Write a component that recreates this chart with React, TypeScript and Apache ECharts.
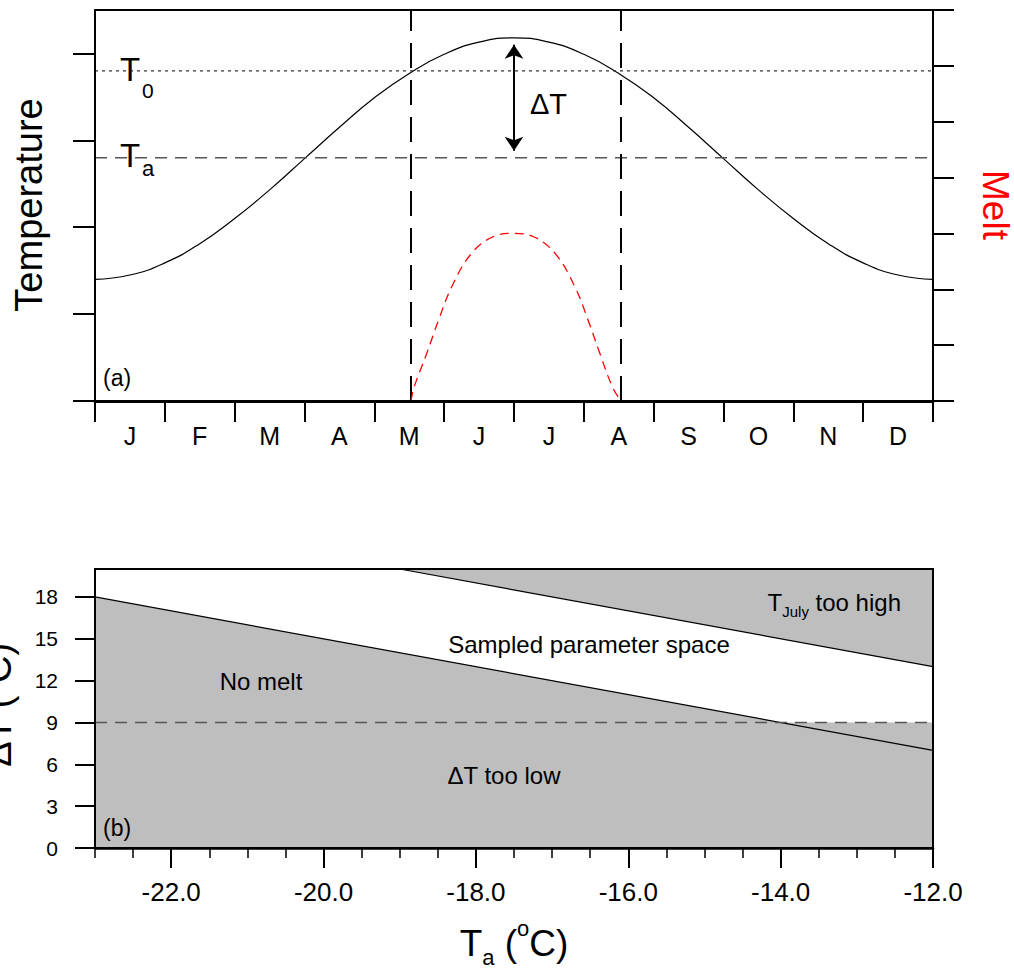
import React, { useEffect, useRef } from 'react';
import * as echarts from 'echarts';

const FONT = '"Liberation Sans", Arial, Helvetica, sans-serif';

// ---------- Panel (a) ----------
const MONTHS = ['J', 'F', 'M', 'A', 'M', 'J', 'J', 'A', 'S', 'O', 'N', 'D'];
const TEMP_MONTH = [0, 0.5, 1, 1.5, 2, 2.5, 3, 3.5, 4, 4.5, 5, 5.5, 6, 6.5, 7, 7.5, 8, 8.5, 9, 9.5, 10, 10.5, 11, 11.5, 12];
const TEMP_VALUE = [1.40, 1.45, 1.59, 1.81, 2.10, 2.43, 2.79, 3.15, 3.49, 3.77, 3.99, 4.13, 4.18, 4.13, 3.99, 3.77, 3.49, 3.15, 2.79, 2.43, 2.10, 1.81, 1.59, 1.45, 1.40];
const T0_VALUE = 3.80;
const TA_VALUE = 2.80;
const T_PEAK = 4.18;
const PEAK_MONTH = 6.0;
const MELT_MONTH = [4.525, 4.57, 4.75, 4.92, 5.11, 5.39, 5.70, 5.99, 6.28, 6.59, 6.87, 7.06, 7.23, 7.41, 7.532];
const MELT_VALUE = [0, 0.25, 0.85, 1.45, 2.05, 2.64, 2.94, 3.0, 2.94, 2.64, 2.05, 1.45, 0.85, 0.25, 0];
const MELT_START = 4.525;
const MELT_END = 7.532;
const TEMP_AXIS_MAX = 4.5;
const TEMP_TICKS = [0, 1, 2, 3, 4];
const MELT_AXIS_MAX = 7;

// ---------- Panel (b) ----------
const TA_MIN = -23;
const TA_MAX = -12;
const DT_MAX = 20;
const NO_MELT_TA = [-23, -12];
const NO_MELT_DT = [18, 7];
const TOO_HIGH_TA = [-19, -12];
const TOO_HIGH_DT = [20, 13];
const DT_LOW = 9;
const TA_LABELS = [-22, -20, -18, -16, -14, -12];
const TA_MINOR = [-23, -22.5, -22, -21.5, -21, -20.5, -20, -19.5, -19, -18.5, -18, -17.5, -17, -16.5, -16, -15.5, -15, -14.5, -14, -13.5, -13, -12.5, -12];
const DT_LABELS = [0, 3, 6, 9, 12, 15, 18];

const GRAY = '#bebebe';

const zip = (xs: number[], ys: number[]) => xs.map((x, i) => [x, ys[i]]);

function txt(text: string, x: number, y: number, size: number, opts: any = {}) {
  return {
    type: 'text',
    x,
    y,
    rotation: opts.rotation || 0,
    silent: true,
    z: 100,
    style: {
      text,
      fontSize: size,
      fontFamily: FONT,
      fill: opts.fill || '#000',
      align: opts.align || 'left',
      verticalAlign: 'middle',
      rich: opts.rich,
    },
  };
}

function buildOption() {
  const tickStyle = { color: '#000', width: 2 };
  const ARROW_TOP = T_PEAK - 0.08;
  const ARROW_BOTTOM = TA_VALUE + 0.08;

  const richBig = (big: number, small: number) => ({
    b: { fontSize: big, fontFamily: FONT, lineHeight: big + 14, verticalAlign: 'middle', fill: '#000' },
    sub: { fontSize: small, fontFamily: FONT, lineHeight: small, verticalAlign: 'bottom', fill: '#000' },
    sup: { fontSize: small, fontFamily: FONT, lineHeight: small, verticalAlign: 'top', fill: '#000' },
  });

  return {
    animation: false,
    backgroundColor: '#fff',
    grid: [
      { left: 95, top: 10, width: 838, height: 391, show: true, borderColor: '#000', borderWidth: 2, backgroundColor: 'transparent', z: 10 },
      { left: 95, top: 569, width: 838, height: 279, show: true, borderColor: '#000', borderWidth: 2, backgroundColor: 'transparent', z: 10 },
    ],
    xAxis: [
      {
        type: 'category', gridIndex: 0, data: MONTHS, boundaryGap: true, position: 'bottom', z: 10,
        axisLine: { show: true, lineStyle: { color: '#000', width: 3 } },
        axisTick: { show: true, length: 21, lineStyle: tickStyle },
        axisLabel: { show: true, fontSize: 25, fontFamily: FONT, color: '#000', margin: 22 },
        splitLine: { show: false },
      },
      {
        type: 'value', gridIndex: 0, min: 0, max: 12, show: false, splitLine: { show: false },
      },
      {
        type: 'value', gridIndex: 1, min: TA_MIN, max: TA_MAX, position: 'bottom', z: 10,
        axisLine: { show: true, lineStyle: { color: '#000', width: 2.5 } },
        axisTick: { show: true, length: 20, customValues: TA_LABELS, lineStyle: tickStyle },
        axisLabel: { show: true, customValues: TA_LABELS, fontSize: 26, fontFamily: FONT, color: '#000', margin: 31, formatter: (v: number) => v.toFixed(1) },
        splitLine: { show: false },
      },
      {
        type: 'value', gridIndex: 1, min: TA_MIN, max: TA_MAX, position: 'bottom', z: 10,
        axisLine: { show: false },
        axisTick: { show: true, length: 10, customValues: TA_MINOR, lineStyle: { color: '#000', width: 1.5 } },
        axisLabel: { show: false },
        splitLine: { show: false },
      },
    ],
    yAxis: [
      {
        type: 'value', gridIndex: 0, min: 0, max: TEMP_AXIS_MAX, position: 'left', z: 10,
        axisLine: { show: true, lineStyle: { color: '#000', width: 2 } },
        axisTick: { show: true, length: 22, customValues: TEMP_TICKS, lineStyle: tickStyle },
        axisLabel: { show: false },
        splitLine: { show: false },
      },
      {
        type: 'value', gridIndex: 0, min: 0, max: MELT_AXIS_MAX, interval: 1, position: 'right', z: 10,
        axisLine: { show: true, lineStyle: { color: '#000', width: 2 } },
        axisTick: { show: true, length: 21, lineStyle: tickStyle },
        axisLabel: { show: false },
        splitLine: { show: false },
      },
      {
        type: 'value', gridIndex: 1, min: 0, max: DT_MAX, position: 'left', z: 10,
        axisLine: { show: true, lineStyle: { color: '#000', width: 2 } },
        axisTick: { show: true, length: 20, customValues: DT_LABELS, lineStyle: tickStyle },
        axisLabel: { show: true, customValues: DT_LABELS, fontSize: 21, fontFamily: FONT, color: '#000', margin: 37 },
        splitLine: { show: false },
      },
    ],
    series: [
      {
        type: 'line', xAxisIndex: 1, yAxisIndex: 0, data: zip(TEMP_MONTH, TEMP_VALUE),
        smooth: true, showSymbol: false, silent: true,
        lineStyle: { color: '#000', width: 1.2 },
        markLine: {
          silent: true, symbol: ['arrow', 'arrow'], symbolSize: 14,
          label: { show: false },
          itemStyle: { color: '#000' },
          lineStyle: { color: '#000', width: 2, type: 'solid' },
          emphasis: { disabled: true },
          data: [[{ coord: [PEAK_MONTH, ARROW_BOTTOM] }, { coord: [PEAK_MONTH, ARROW_TOP] }]],
        },
      },
      {
        type: 'line', xAxisIndex: 1, yAxisIndex: 0, data: [[0, T0_VALUE], [12, T0_VALUE]],
        showSymbol: false, silent: true, lineStyle: { color: '#333', width: 1.3, type: [3, 4] },
      },
      {
        type: 'line', xAxisIndex: 1, yAxisIndex: 0, data: [[0, TA_VALUE], [12, TA_VALUE]],
        showSymbol: false, silent: true, lineStyle: { color: '#555', width: 1.5, type: [12, 8] },
      },
      {
        type: 'line', xAxisIndex: 1, yAxisIndex: 0, data: [[MELT_START, 0], [MELT_START, TEMP_AXIS_MAX]],
        showSymbol: false, silent: true, lineStyle: { color: '#000', width: 2, type: [25, 12] },
      },
      {
        type: 'line', xAxisIndex: 1, yAxisIndex: 0, data: [[MELT_END, 0], [MELT_END, TEMP_AXIS_MAX]],
        showSymbol: false, silent: true, lineStyle: { color: '#000', width: 2, type: [25, 12] },
      },
      {
        type: 'line', xAxisIndex: 1, yAxisIndex: 1, data: zip(MELT_MONTH, MELT_VALUE),
        smooth: 0.4, showSymbol: false, silent: true, lineStyle: { color: '#ff0000', width: 1.3, type: [9, 6] },
      },
      // Panel (b) fills
      {
        type: 'line', xAxisIndex: 2, yAxisIndex: 2, data: zip(NO_MELT_TA, NO_MELT_DT),
        showSymbol: false, silent: true, lineStyle: { width: 0, opacity: 0 },
        areaStyle: { color: GRAY, opacity: 1, origin: 'start' },
      },
      {
        type: 'line', xAxisIndex: 2, yAxisIndex: 2, data: [[TA_MIN, DT_LOW], [TA_MAX, DT_LOW]],
        showSymbol: false, silent: true, lineStyle: { width: 0, opacity: 0 },
        areaStyle: { color: GRAY, opacity: 1, origin: 'start' },
      },
      {
        type: 'line', xAxisIndex: 2, yAxisIndex: 2, data: zip(TOO_HIGH_TA, TOO_HIGH_DT),
        showSymbol: false, silent: true, lineStyle: { width: 0, opacity: 0 },
        areaStyle: { color: GRAY, opacity: 1, origin: 'end' },
      },
      // Panel (b) lines
      {
        type: 'line', xAxisIndex: 2, yAxisIndex: 2, data: zip(NO_MELT_TA, NO_MELT_DT),
        showSymbol: false, silent: true, lineStyle: { color: '#000', width: 1.2 },
      },
      {
        type: 'line', xAxisIndex: 2, yAxisIndex: 2, data: zip(TOO_HIGH_TA, TOO_HIGH_DT),
        showSymbol: false, silent: true, lineStyle: { color: '#000', width: 1.2 },
      },
      {
        type: 'line', xAxisIndex: 2, yAxisIndex: 2, data: [[TA_MIN, DT_LOW], [TA_MAX, DT_LOW]],
        showSymbol: false, silent: true, lineStyle: { color: '#555', width: 1.5, type: [12, 8] },
      },
    ],
    graphic: {
      elements: [
        txt('Temperature', 29, 205, 38, { align: 'center', rotation: Math.PI / 2 }),
        txt('Melt', 995, 205, 37, { align: 'center', rotation: -Math.PI / 2, fill: '#ff0000' }),
        txt('T', 120, 69, 33),
        txt('0', 142, 90, 21),
        txt('T', 120, 155, 33),
        txt('a', 142, 168, 22),
        txt('ΔT', 530, 104, 29),
        txt('(a)', 103, 378, 23),
        txt('(b)', 103, 828, 23),
        txt('No melt', 261, 681, 24, { align: 'center' }),
        txt('Sampled parameter space', 589, 644, 24, { align: 'center' }),
        txt('ΔT too low', 504, 775, 24, { align: 'center' }),
        txt('{b|T}{sub|July}{b| too high}', 901, 602, 24, {
          align: 'right',
          rich: {
            b: { fontSize: 24, fontFamily: FONT, lineHeight: 34, verticalAlign: 'middle', fill: '#000' },
            sub: { fontSize: 15, fontFamily: FONT, lineHeight: 15, verticalAlign: 'bottom', fill: '#000' },
          },
        }),
        txt('{b|T}{sub|a}{b| (}{sup|o}{b|C)}', 514, 943, 37, { align: 'center', rich: richBig(37, 22) }),
        txt('{b|ΔT (}{sup|o}{b|C)}', -2, 705, 38, { align: 'center', rotation: Math.PI / 2, rich: richBig(38, 22) }),
      ],
    },
  };
}

export default function App() {
  const ref = useRef<HTMLDivElement>(null);
  useEffect(() => {
    document.body.style.margin = '0';
    if (!ref.current) return;
    const chart = echarts.init(ref.current, null, { renderer: 'svg' });
    chart.setOption(buildOption() as any);
    return () => {
      chart.dispose();
    };
  }, []);
  return <div ref={ref} style={{ width: 1014, height: 970, background: '#fff' }} />;
}
